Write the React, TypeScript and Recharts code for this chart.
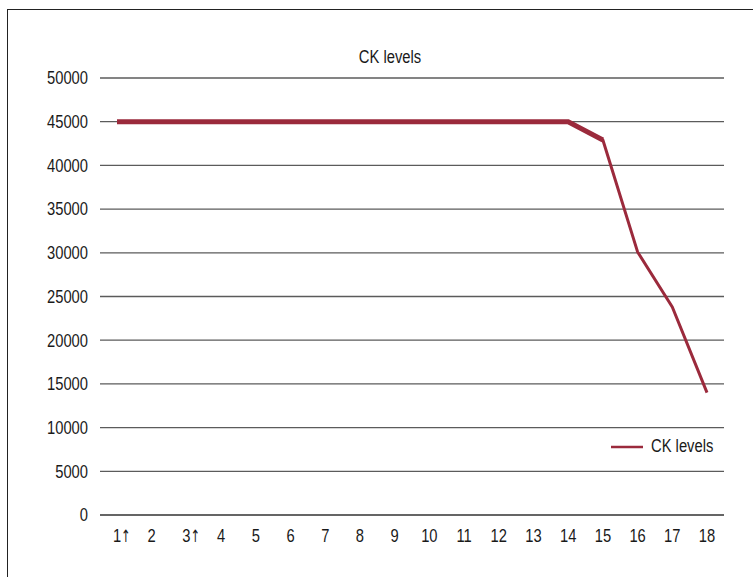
import React from "react";
import { LineChart, Line, XAxis, YAxis, CartesianGrid, Legend } from "recharts";

const categories = ["1↑", "2", "3↑", "4", "5", "6", "7", "8", "9", "10", "11", "12", "13", "14", "15", "16", "17", "18"];
const ckLevels = [45000, 45000, 45000, 45000, 45000, 45000, 45000, 45000, 45000, 45000, 45000, 45000, 45000, 45000, 42900, 30100, 23800, 14000];
const yTicks = [0, 5000, 10000, 15000, 20000, 25000, 30000, 35000, 40000, 45000, 50000];
const seriesName = "CK levels";
const titleText = "CK levels";

const thickUntil = 15;

const data = categories.map((c, i) => ({
  cat: c,
  ck: ckLevels[i],
  ckThick: i < thickUntil ? ckLevels[i] : null,
}));

const FONT = "'Liberation Sans', Arial, sans-serif";
const ARROW_FONT = "'DejaVu Sans Condensed', 'DejaVu Sans', sans-serif";
const FS = 18;
const SX = 0.82;
const LINE_COLOR = "#9b2a3c";
const GRID_COLOR = "#5b5b5b";
const TEXT_COLOR = "#1a1a1a";

const XTick = (props: any) => {
  const { x, y, payload } = props;
  const v: string = payload.value;
  const hasArrow = v.includes("↑");
  const num = v.replace("↑", "");
  return (
    <g>
      <text transform={`translate(${x},${y}) scale(${SX},1)`} dy="0.71em" textAnchor="middle" fontFamily={FONT} fontSize={FS} fill={TEXT_COLOR}>
        {num}
      </text>
      {hasArrow ? (
        <text transform={`translate(${x + 4},${y}) scale(0.75,1)`} dy="0.74em" textAnchor="start" fontFamily={ARROW_FONT} fontSize={17} fontWeight={300} fill={TEXT_COLOR}>
          ↑
        </text>
      ) : null}
    </g>
  );
};

const YTick = (props: any) => {
  const { x, y, payload } = props;
  return (
    <text transform={`translate(${x},${y}) scale(${SX},1)`} dy="0.355em" textAnchor="end" fontFamily={FONT} fontSize={FS} fill={TEXT_COLOR}>
      {payload.value}
    </text>
  );
};

const LegendContent = (props: any) => {
  const items = (props.payload || []).filter((p: any) => p.type !== "none");
  return (
    <div>
      {items.map((p: any) => (
        <div key={p.value} style={{ display: "flex", alignItems: "center", fontFamily: FONT, fontSize: FS, color: TEXT_COLOR, whiteSpace: "nowrap" }}>
          <svg width={32} height={6} style={{ marginRight: 8 }}>
            <line x1={0} y1={3} x2={32} y2={3} stroke={p.color} strokeWidth={2.5} />
          </svg>
          <span style={{ display: "inline-block", transform: `scaleX(${SX})`, transformOrigin: "left center" }}>{p.value}</span>
        </div>
      ))}
    </div>
  );
};

export default function App() {
  return (
    <div style={{ position: "absolute", left: 0, top: 0, width: 753, height: 577, overflow: "hidden", background: "#fff" }}>
      <div
        style={{
          position: "absolute",
          left: 7,
          top: 9,
          width: 780,
          height: 600,
          border: "1.3px solid #222",
          boxSizing: "border-box",
        }}
      />
      <div
        style={{
          position: "absolute",
          left: 290,
          width: 200,
          top: 47,
          textAlign: "center",
          fontFamily: FONT,
          fontSize: FS,
          color: TEXT_COLOR,
          lineHeight: "20px",
          transform: `scaleX(${SX})`,
          transformOrigin: "center center",
        }}
      >
        {titleText}
      </div>
      <div style={{ position: "absolute", left: 0, top: 0 }}>
        <LineChart width={753} height={577} data={data} margin={{ top: 78, right: 29, bottom: 32, left: 0 }}>
          <CartesianGrid horizontal={true} vertical={false} stroke={GRID_COLOR} strokeWidth={1.3} />
          <XAxis
            dataKey="cat"
            type="category"
            axisLine={{ stroke: GRID_COLOR, strokeWidth: 1.3 }}
            tickLine={false}
            tickSize={0}
            tickMargin={14}
            height={30}
            interval={0}
            padding={{ left: 17, right: 17 }}
            tick={<XTick />}
          />
          <YAxis
            domain={[0, 50000]}
            ticks={yTicks}
            width={100}
            axisLine={false}
            tickLine={false}
            tickSize={0}
            tickMargin={12}
            tick={<YTick />}
          />
          <Line
            dataKey="ck"
            name={seriesName}
            stroke={LINE_COLOR}
            strokeWidth={3}
            dot={false}
            isAnimationActive={false}
            type="linear"
            strokeLinejoin="round"
          />
          <Line
            dataKey="ckThick"
            name="ckThick"
            legendType="none"
            stroke={LINE_COLOR}
            strokeWidth={5}
            dot={false}
            isAnimationActive={false}
            type="linear"
            connectNulls={false}
          />
          <Legend
            content={<LegendContent />}
            layout="vertical"
            verticalAlign="middle"
            align="center"
            wrapperStyle={{ position: "absolute", left: 611, top: 436, width: 130 }}
          />
        </LineChart>
      </div>
    </div>
  );
}
